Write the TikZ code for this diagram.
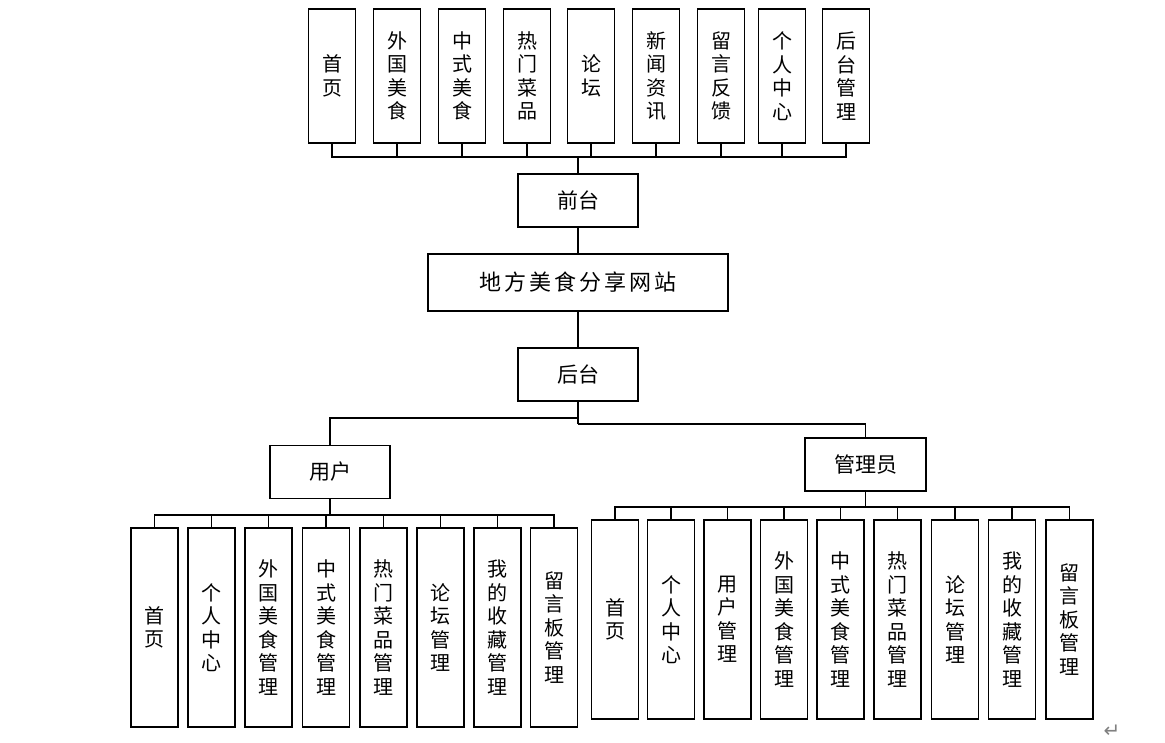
\documentclass[tikz,border=0pt]{standalone}
\usepackage{fontspec}
\newfontfamily\cjk{Noto Sans CJK SC}
\newfontfamily\djv{DejaVu Sans}
\tikzset{
  vbox/.style={draw, line width=1.7pt, inner sep=0pt, align=center,
    font=\cjk\fontsize{20}{23.5}\selectfont, minimum width=47, fill=white},
  hbox/.style={draw, line width=1.7pt, inner sep=0pt, align=center,
    font=\cjk\fontsize{21}{24}\selectfont},
  conn/.style={line width=1.7pt}
}
\begin{document}
\begin{tikzpicture}[x=1pt,y=-1pt]
\useasboundingbox (0,0) rectangle (1165,742);
% top row
\foreach \n/\x/\t in {t1/332/首\\页, t2/397/外\\国\\美\\食, t3/462/中\\式\\美\\食, t4/527/热\\门\\菜\\品, t5/591/论\\坛, t6/656/新\\闻\\资\\讯, t7/721/留\\言\\反\\馈, t8/782/个\\人\\中\\心, t9/846/后\\台\\管\\理}
  \node[vbox, minimum height=134] (\n) at (\x,76) {\t};
\node[hbox, minimum width=120, minimum height=53] (qt) at (578,200.5) {前台};
\node[hbox, minimum width=300, minimum height=57, font=\cjk\fontsize{22}{24}\selectfont] (site) at (578,282.5) {地\hspace{3pt}方\hspace{3pt}美\hspace{3pt}食\hspace{3pt}分\hspace{3pt}享\hspace{3pt}网\hspace{3pt}站};
\node[hbox, minimum width=120, minimum height=53] (ht) at (578,374.5) {后台};
\node[hbox, minimum width=120, minimum height=53] (user) at (330,472) {用户};
\node[hbox, minimum width=121, minimum height=53] (admin) at (865.5,464.5) {管理员};
% user children
\foreach \n/\x/\t in {u1/154.5/首\\页, u2/211.5/个\\人\\中\\心, u3/268.5/外\\国\\美\\食\\管\\理, u4/326/中\\式\\美\\食\\管\\理, u5/383.5/热\\门\\菜\\品\\管\\理, u6/440.5/论\\坛\\管\\理, u7/497.5/我\\的\\收\\藏\\管\\理, u8/554/留\\言\\板\\管\\理}
  \node[vbox, minimum height=199] (\n) at (\x,627.5) {\t};
% admin children
\foreach \n/\x/\t in {a1/615/首\\页, a2/671/个\\人\\中\\心, a3/727.5/用\\户\\管\\理, a4/784/外\\国\\美\\食\\管\\理, a5/840.5/中\\式\\美\\食\\管\\理, a6/897.5/热\\门\\菜\\品\\管\\理, a7/955/论\\坛\\管\\理, a8/1012/我\\的\\收\\藏\\管\\理, a9/1069.5/留\\言\\板\\管\\理}
  \node[vbox, minimum height=199] (\n) at (\x,619.5) {\t};
% connectors
\coordinate (tb) at (578,157);
\foreach \n in {t1,t2,t3,t4,t5,t6,t7,t8,t9}
  \draw[conn] (\n.south) |- (tb);
\draw[conn] (tb) -- (qt.north);
\draw[conn] (qt.south) -- (site.north);
\draw[conn] (site.south) -- (ht.north);
\coordinate (hl) at (578,418);
\coordinate (hr) at (578,424);
\draw[conn] (ht.south) -- (hr);
\draw[conn] (hl) -| (user.north);
\draw[conn] (hr) -| (admin.north);
\coordinate (ub) at (330,515);
\draw[conn] (user.south) -- (ub);
\foreach \n in {u1,u2,u3,u4,u5,u6,u7,u8}
  \draw[conn] (ub) -| (\n.north);
\coordinate (ab) at (865.5,507);
\draw[conn] (admin.south) -- (ab);
\foreach \n in {a1,a2,a3,a4,a5,a6,a7,a8,a9}
  \draw[conn] (ab) -| (\n.north);
\node[text=gray, font=\djv\fontsize{20}{20}\selectfont, inner sep=0pt] (ret) at (1112,731) {↵};
\end{tikzpicture}
\end{document}
